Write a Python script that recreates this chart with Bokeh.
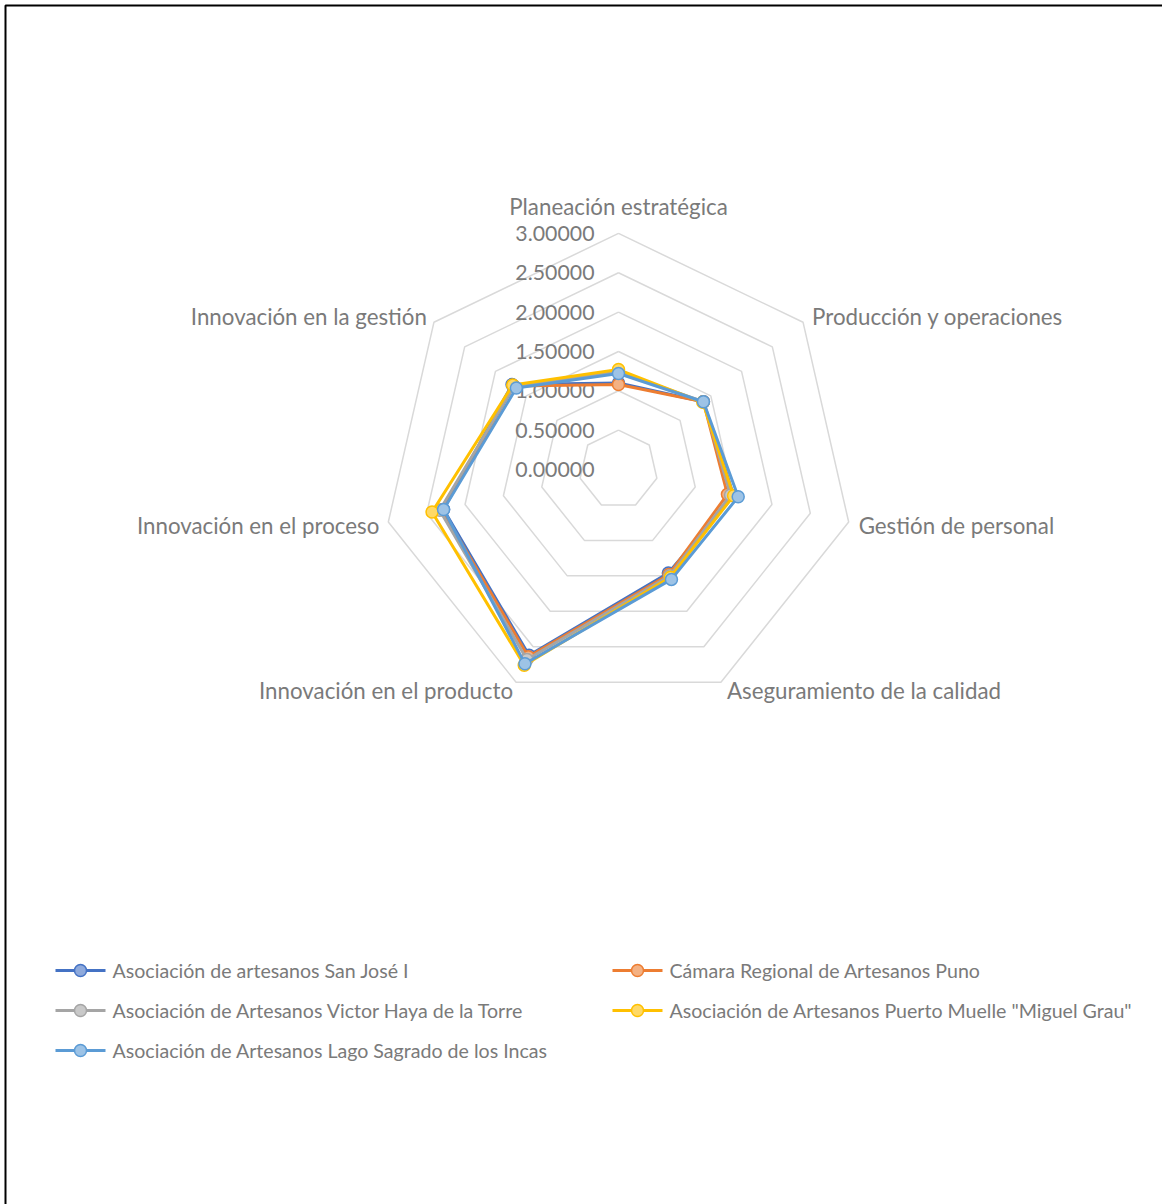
import numpy as np
from bokeh.plotting import figure
from bokeh.models import Range1d
from bokeh.core.properties import value
from bokeh.embed import file_html
from bokeh.resources import INLINE

categories = ["Planeación estratégica", "Producción y operaciones", "Gestión de personal",
              "Aseguramiento de la calidad", "Innovación en el producto",
              "Innovación en el proceso", "Innovación en la gestión"]
tick_values = [0.0, 0.5, 1.0, 1.5, 2.0, 2.5, 3.0]
tick_labels = ["0.00000", "0.50000", "1.00000", "1.50000", "2.00000", "2.50000", "3.00000"]

series_names = ["Asociación de artesanos San José I",
                "Cámara Regional de Artesanos Puno",
                "Asociación de Artesanos Victor Haya de la Torre",
                "Asociación de Artesanos Puerto Muelle \"Miguel Grau\"",
                "Asociación de Artesanos Lago Sagrado de los Incas"]
san_jose = [1.10, 1.38, 1.50, 1.46, 2.62, 2.28, 1.73]
camara_puno = [1.08, 1.38, 1.42, 1.48, 2.64, 2.30, 1.70]
victor_haya = [1.24, 1.38, 1.46, 1.50, 2.68, 2.33, 1.70]
puerto_muelle = [1.27, 1.37, 1.50, 1.52, 2.76, 2.43, 1.72]
lago_sagrado = [1.22, 1.38, 1.56, 1.55, 2.74, 2.28, 1.66]
series_values = [san_jose, camara_puno, victor_haya, puerto_muelle, lago_sagrado]

line_colors = ["#4472C4", "#ED7D31", "#A5A5A5", "#FFC000", "#5B9BD5"]
fill_colors = ["#8FAADC", "#F4B183", "#C9C9C9", "#FFD966", "#9DC3E6"]

W, H = 1162, 1204
CX, CY = 618.0, 469.0      # pixel position of the radar centre
UNIT = 78.7                # pixels per 1.0 of value
FONT = "Lato"
TXT = "#7A7A7A"
FS_CAT = "22.3px"
FS_TICK = "21.3px"
FS_LEG = "19.6px"

def px(x):
    return (x - CX) / UNIT

def py(y):
    return (CY - y) / UNIT

p = figure(width=W, height=H, output_backend="svg", toolbar_location=None,
           x_range=Range1d(px(0), px(W)), y_range=Range1d(py(H), py(0)),
           min_border=0)
p.axis.visible = False
p.grid.visible = False
p.outline_line_color = None
p.background_fill_color = "white"
p.border_fill_color = "white"

n = len(categories)
ang = np.arange(n) * 2 * np.pi / n
sx, sy = np.sin(ang), np.cos(ang)

# grid heptagons
for t in tick_values[1:]:
    xs = list(t * sx) + [t * sx[0]]
    ys = list(t * sy) + [t * sy[0]]
    p.line(xs, ys, line_color="#D9D9D9", line_width=1.5)

# tick labels
p.text(x=[0] * len(tick_values), y=tick_values, text=tick_labels,
       x_offset=-24, text_align="right", text_baseline="middle",
       text_font=value(FONT), text_font_size=FS_TICK, text_color=TXT)

# category labels
R = 3.0
lab_x = R * sx
lab_y = R * sy
aligns = ["center", "left", "left", "left", "right", "right", "right"]
xoffs = [0, 9, 10, 6, -3, -9, -7]
yoffs = [-27, -6, 3, 8, 8, 3, -6]
for i in range(n):
    p.text(x=[lab_x[i]], y=[lab_y[i]], text=[categories[i]],
           x_offset=xoffs[i], y_offset=yoffs[i],
           text_align=aligns[i], text_baseline="middle",
           text_font=value(FONT), text_font_size=FS_CAT, text_color=TXT)

# series
for vals, lc, fc in zip(series_values, line_colors, fill_colors):
    v = np.array(vals)
    xs = list(v * sx) + [v[0] * sx[0]]
    ys = list(v * sy) + [v[0] * sy[0]]
    p.line(xs, ys, line_color=lc, line_width=3, line_join="round")
    p.scatter(v * sx, v * sy, size=12, fill_color=fc, line_color=lc, line_width=1.5)

# legend (drawn manually)
leg_rows = [970, 970, 1010, 1010, 1050]
leg_cols = [55, 612, 55, 612, 55]
for name, lc, fc, ry, cx0 in zip(series_names, line_colors, fill_colors, leg_rows, leg_cols):
    p.line([px(cx0), px(cx0 + 50)], [py(ry), py(ry)], line_color=lc, line_width=3)
    p.scatter([px(cx0 + 25)], [py(ry)], size=12, fill_color=fc, line_color=lc, line_width=1.5)
    p.text(x=[px(cx0 + 57)], y=[py(ry)], text=[name], text_align="left",
           text_baseline="middle", text_font=value(FONT), text_font_size=FS_LEG, text_color=TXT)

# chart frame (left and top edges visible)
p.line([px(5), px(5), px(W)], [py(H), py(5), py(5)], line_color="black", line_width=2)

open("out.html", "w").write(file_html(p, INLINE))
